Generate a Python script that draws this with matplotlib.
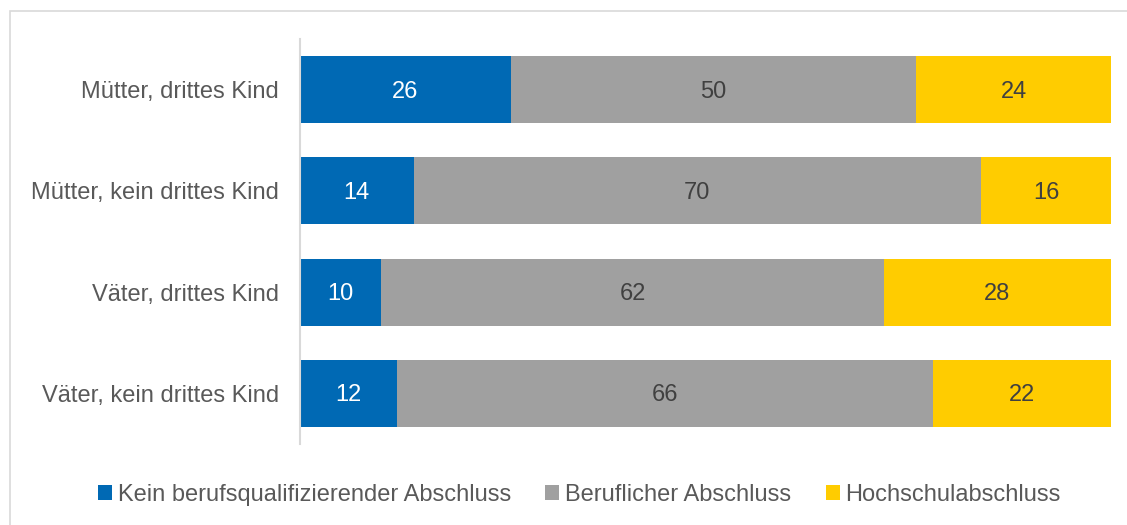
import matplotlib.pyplot as plt
from matplotlib.patches import Rectangle

plt.rcParams['font.family'] = ['Liberation Sans', 'DejaVu Sans']

categories = ["Mütter, drittes Kind", "Mütter, kein drittes Kind",
              "Väter, drittes Kind", "Väter, kein drittes Kind"]
kein = [26, 14, 10, 12]
beruflich = [50, 70, 62, 66]
hochschule = [24, 16, 28, 22]
series_names = ["Kein berufsqualifizierender Abschluss",
                "Beruflicher Abschluss", "Hochschulabschluss"]
colors = ["#0069B4", "#A0A0A0", "#FFCC00"]
text_colors = ["white", "#404040", "#404040"]

fig = plt.figure(figsize=(11.27, 5.25), dpi=100)
ax = fig.add_axes([300 / 1127, 1 - 444 / 525, 811 / 1127, 405 / 525])

# Rahmen um die Grafik
fig.patches.append(Rectangle((10 / 1127, -0.1), 1.2, 1 - 10.5 / 525 + 0.1,
                             transform=fig.transFigure, fill=False,
                             edgecolor="#D9D9D9", linewidth=1.2))

ypos = list(range(len(categories)))
left = [0] * len(categories)
for vals, name, col, tcol in zip([kein, beruflich, hochschule], series_names, colors, text_colors):
    bars = ax.barh(ypos, vals, left=left, height=0.66, color=col, label=name)
    for b, v in zip(bars, vals):
        ax.text(b.get_x() + b.get_width() / 2, b.get_y() + b.get_height() / 2 + 0.02, str(v),
                ha="center", va="center", color=tcol, fontsize=17)
    left = [l + v for l, v in zip(left, vals)]

ax.set_xlim(0, 100)
ax.set_ylim(3.5, -0.5)
ax.set_yticks(ypos)
ax.set_yticklabels(categories, fontsize=17, color="#595959")
ax.tick_params(axis="y", length=0, pad=15)
ax.set_xticks([])
for s in ["top", "right", "bottom"]:
    ax.spines[s].set_visible(False)
ax.spines["left"].set_color("#D9D9D9")
ax.spines["left"].set_linewidth(1.5)

leg = fig.legend(loc="center", bbox_to_anchor=(0.514, 1 - 495 / 525), ncol=3,
                 frameon=False, fontsize=17, handlelength=0.6, handleheight=0.6,
                 handletextpad=0.25, columnspacing=1.45)
for t in leg.get_texts():
    t.set_color("#595959")

fig.savefig("out.png", dpi=100)
